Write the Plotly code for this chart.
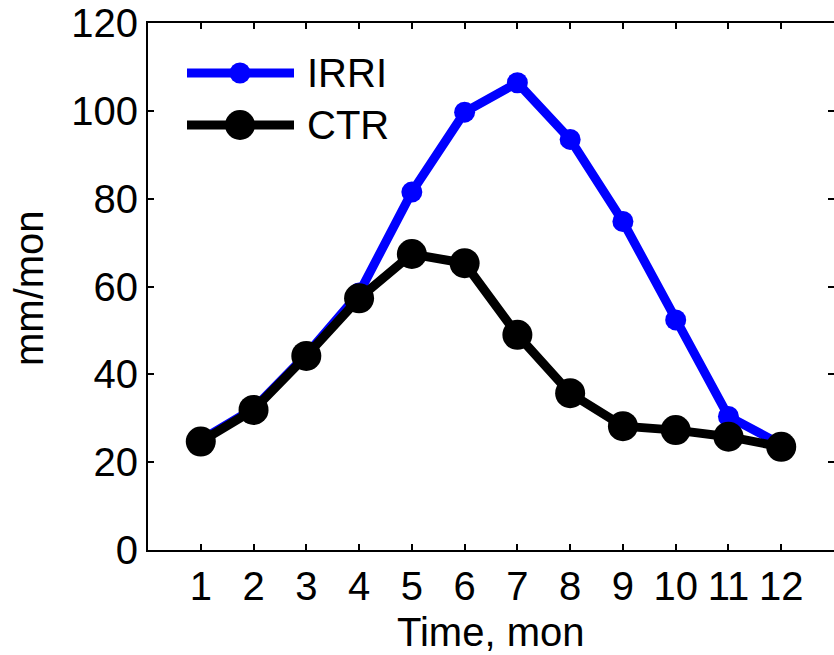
import plotly.graph_objects as go

months = [1, 2, 3, 4, 5, 6, 7, 8, 9, 10, 11, 12]
irri = [25.0, 32.2, 44.5, 58.5, 81.5, 99.7, 106.4, 93.5, 74.8, 52.4, 30.4, 24.0]
ctr = [24.7, 31.9, 44.2, 57.3, 67.4, 65.3, 49.0, 35.7, 28.2, 27.3, 25.8, 23.5]
x_ticks = [1, 2, 3, 4, 5, 6, 7, 8, 9, 10, 11, 12]
y_ticks = [0, 20, 40, 60, 80, 100, 120]
x_title = "Time, mon"
y_title = "mm/mon"

FONT = "Arial, Liberation Sans, sans-serif"
W, H = 834, 655
L, R, T, B = 148, 0, 23, 105
PW, PH = W - L - R, H - T - B

def px(x):
    # x in page pixels -> paper fraction
    return (x - L) / PW

def py(y):
    return (H - B - y) / PH

fig = go.Figure()
fig.add_trace(go.Scatter(x=months, y=irri, mode="lines+markers", name="IRRI",
                         line=dict(color="#0000ff", width=9),
                         marker=dict(color="#0000ff", size=21, symbol="circle"),
                         showlegend=False))
fig.add_trace(go.Scatter(x=months, y=ctr, mode="lines+markers", name="CTR",
                         line=dict(color="#000000", width=9),
                         marker=dict(color="#000000", size=30, symbol="circle"),
                         showlegend=False))

# custom legend
shapes = []
annotations = []
rows = [("IRRI", "#0000ff", 21, 73), ("CTR", "#000000", 30, 125)]
for name, col, ms, yy in rows:
    shapes.append(dict(type="line", xref="paper", yref="paper",
                       x0=px(187), x1=px(294), y0=py(yy), y1=py(yy),
                       line=dict(color=col, width=9)))
    shapes.append(dict(type="circle", xref="paper", yref="paper",
                       xsizemode="pixel", ysizemode="pixel",
                       xanchor=px(240), yanchor=py(yy),
                       x0=-ms / 2, x1=ms / 2, y0=-ms / 2, y1=ms / 2,
                       fillcolor=col, line=dict(width=0)))
    annotations.append(dict(text=name, xref="paper", yref="paper",
                            x=px(305), y=py(yy), xanchor="left", yanchor="middle",
                            showarrow=False, font=dict(size=40, color="black", family=FONT)))

# axis titles
annotations.append(dict(text=x_title, xref="paper", yref="paper",
                        x=px(490), y=py(632), xanchor="center", yanchor="middle",
                        showarrow=False, font=dict(size=40, color="black", family=FONT)))
annotations.append(dict(text=y_title, xref="paper", yref="paper", textangle=-90,
                        x=px(29), y=py(288), xanchor="center", yanchor="middle",
                        showarrow=False, font=dict(size=40, color="black", family=FONT)))

axis_common = dict(showline=True, linecolor="black", linewidth=2, mirror="ticks",
                   ticks="inside", ticklen=6, tickwidth=2, tickcolor="black",
                   showgrid=False, zeroline=False, automargin=False,
                   ticklabeloverflow="allow",
                   tickfont=dict(size=40, color="black", family=FONT))

fig.update_layout(
    width=W, height=H,
    margin=dict(l=L, r=R, t=T, b=B, autoexpand=False),
    paper_bgcolor="white", plot_bgcolor="white",
    font=dict(family=FONT, color="black"),
    xaxis=dict(range=[0, 13], tickvals=x_ticks, ticktext=[str(v) for v in x_ticks],
               ticklabelstandoff=0, **axis_common),
    yaxis=dict(range=[0, 120], tickvals=y_ticks, ticktext=[str(v) for v in y_ticks],
               ticklabelstandoff=0, **axis_common),
    shapes=shapes, annotations=annotations,
    showlegend=False,
)

fig.write_html("out.html",
               config={"displayModeBar": False},
               post_script="document.body.style.margin='0';document.body.style.overflow='hidden';")
